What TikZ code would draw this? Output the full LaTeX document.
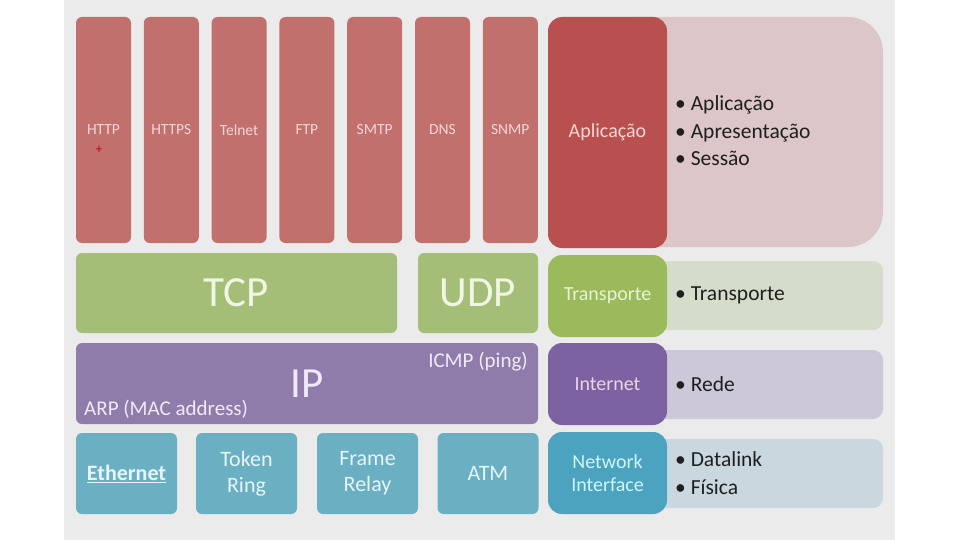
\documentclass[tikz,border=0pt]{standalone}
\usepackage{fontspec}
\setmainfont{Carlito}

\definecolor{bggrey}{HTML}{EBEBEB}
\definecolor{appred}{HTML}{C1706E}
\definecolor{apptext}{HTML}{F6D6D4}
\definecolor{tcpgreen}{HTML}{A4BE78}
\definecolor{tcptext}{HTML}{F1F6E2}
\definecolor{ippurple}{HTML}{8F7CAB}
\definecolor{iptext}{HTML}{F0EAF6}
\definecolor{linkblue}{HTML}{6BB0C2}
\definecolor{linktext}{HTML}{E6F5F9}
\definecolor{aplred}{HTML}{B85050}
\definecolor{trgreen}{HTML}{9BBA5C}
\definecolor{trtext}{HTML}{E9F2D6}
\definecolor{inpurple}{HTML}{7D62A1}
\definecolor{niblue}{HTML}{4BA3BF}
\definecolor{pinklight}{HTML}{DCC6C8}
\definecolor{greenlight}{HTML}{D4DCCA}
\definecolor{purplelight}{HTML}{CCC8D8}
\definecolor{bluelight}{HTML}{C9D8DF}

\tikzset{
  layer/.style={rectangle, rounded corners=6pt, inner sep=0pt, align=center},
  appbox/.style={layer, fill=appred, text=apptext, minimum width=55pt, minimum height=226pt,
    font=\fontsize{15.5}{18}\selectfont},
  bigbox/.style={layer, minimum height=80pt, font=\fontsize{43}{48}\selectfont},
  linkbox/.style={layer, fill=linkblue, text=linktext, minimum width=101pt, minimum height=81pt,
    font=\fontsize{22}{26}\selectfont},
  osibox/.style={layer, rounded corners=14pt, minimum width=119pt, minimum height=82pt,
    font=\fontsize{20}{23}\selectfont},
  bullets/.style={anchor=west, inner sep=0pt, align=left, text=black!88,
    font=\fontsize{21.5}{27.5}\selectfont},
}

\begin{document}
\begin{tikzpicture}[x=1pt,y=-1pt]
	\useasboundingbox (0,0) rectangle (960,540);
	\fill[bggrey] (64,0) rectangle (895,540);

	% application protocols
	\foreach \name [count=\i from 0] in {HTTP,HTTPS,Telnet,FTP,SMTP,DNS,SNMP}
		\node[appbox] (app\i) at (103.5+67.8*\i,130) {\name};
	\node[text=red!80!black, inner sep=0pt, font=\fontsize{13}{13}\selectfont] (cursor) at (99,150) {+};

	% transport
	\node[bigbox, fill=tcpgreen, text=tcptext, minimum width=321pt] (tcp) at (236.5,293) {TCP};
	\node[bigbox, fill=tcpgreen, text=tcptext, minimum width=120pt] (udp) at (478,293) {UDP};

	% internet
	\node[bigbox, fill=ippurple, text=iptext, minimum width=462pt, minimum height=81pt] (ip) at (307,383.5) {IP};
	\node[anchor=base east, text=iptext, inner sep=0pt, font=\fontsize{21}{24}\selectfont] (icmp) at (528,367) {ICMP (ping)};
	\node[anchor=base west, text=iptext, inner sep=0pt, font=\fontsize{21}{24}\selectfont] (arp) at (84,415) {ARP (MAC address)};

	% network interface
	\node[linkbox] (eth) at (126.5,473.5) {\underline{\textbf{Ethernet}}};
	\node[linkbox] (token) at (246.5,473.5) {Token\\Ring};
	\node[linkbox] (frame) at (367.5,473.5) {Frame\\Relay};
	\node[linkbox] (atm) at (488,473.5) {ATM};

	% OSI layers
	\fill[pinklight, rounded corners=35pt] (595,17) rectangle (883,247);
	\fill[greenlight, rounded corners=10pt] (600,261) rectangle (883,330);
	\fill[purplelight, rounded corners=10pt] (600,350) rectangle (883,419);
	\fill[bluelight, rounded corners=10pt] (600,439) rectangle (883,508);

	\node[osibox, fill=aplred, text=apptext, minimum height=231pt] (aplic) at (607.5,132.5) {Aplicação};
	\node[osibox, fill=trgreen, text=trtext] (transp) at (607.5,296) {Transporte};
	\node[osibox, fill=inpurple, text=iptext!90!purple] (inet) at (607.5,384) {Internet};
	\node[osibox, fill=niblue, text=linktext!90!cyan] (netif) at (607.5,473) {Network\\Interface};

	\node[bullets] (osiapl) at (675,131) {\textbullet\ Aplicação\\\textbullet\ Apresentação\\\textbullet\ Sessão};
	\node[bullets] (ositr) at (675,295.5) {\textbullet\ Transporte};
	\node[bullets] (osirede) at (675,384) {\textbullet\ Rede};
	\node[bullets] (osifis) at (675,473) {\textbullet\ Datalink\\\textbullet\ Física};
\end{tikzpicture}
\end{document}
